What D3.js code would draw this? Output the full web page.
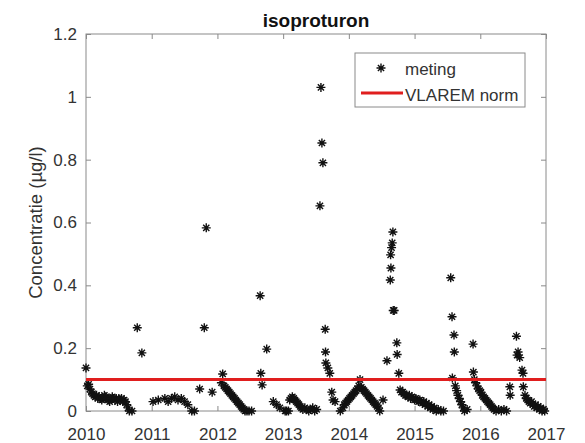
<!DOCTYPE html>
<html>
<head>
<meta charset="utf-8">
<script src="https://cdn.jsdelivr.net/npm/d3@7"></script>
<style>
  html, body { margin: 0; padding: 0; background: #fff; }
  svg { display: block; font-family: "Liberation Sans", Arial, sans-serif; }
</style>
</head>
<body>
<svg id="chart" width="585" height="443"></svg>
<script>
// ---- data ----
const chartTitle = "isoproturon";
const yLabel = "Concentratie (µg/l)";
const legendLabels = ["meting", "VLAREM norm"];
const xTicks = [2010, 2011, 2012, 2013, 2014, 2015, 2016, 2017];
const yTicks = [0, 0.2, 0.4, 0.6, 0.8, 1, 1.2];
const normValue = 0.1;

const sampleYears = [
  2010.00, 2010.02, 2010.04, 2010.06, 2010.08, 2010.10, 2010.12, 2010.14, 2010.16, 2010.18,
  2010.20, 2010.22, 2010.24, 2010.26, 2010.28, 2010.30, 2010.32, 2010.34, 2010.36, 2010.38,
  2010.40, 2010.42, 2010.44, 2010.46, 2010.48, 2010.50, 2010.52, 2010.54, 2010.56, 2010.58,
  2010.60, 2010.62, 2010.64, 2010.66, 2010.70, 2010.78, 2010.85,
  2011.02, 2011.10, 2011.20, 2011.25, 2011.30, 2011.35, 2011.40, 2011.45, 2011.50, 2011.55,
  2011.61, 2011.65, 2011.73, 2011.80, 2011.83, 2011.92,
  2012.06, 2012.08, 2012.10, 2012.12, 2012.14, 2012.16, 2012.18, 2012.20, 2012.22, 2012.24,
  2012.26, 2012.28, 2012.30, 2012.32, 2012.34, 2012.36, 2012.38, 2012.40, 2012.42, 2012.45,
  2012.48, 2012.52, 2012.65, 2012.66, 2012.68, 2012.75, 2012.85, 2012.90, 2012.95, 2013.03,
  2013.05, 2013.08, 2013.10, 2013.12, 2013.14, 2013.16, 2013.18, 2013.20, 2013.22, 2013.24,
  2013.26, 2013.28, 2013.30, 2013.33, 2013.36, 2013.39, 2013.42, 2013.45, 2013.48, 2013.51,
  2013.56, 2013.575, 2013.59, 2013.605, 2013.64, 2013.645, 2013.65, 2013.68, 2013.71, 2013.74,
  2013.76, 2013.79, 2013.87,
  2013.91, 2013.93, 2013.95, 2013.97, 2013.99, 2014.01, 2014.03, 2014.05, 2014.07, 2014.09,
  2014.11, 2014.13, 2014.15, 2014.17, 2014.19, 2014.21, 2014.23, 2014.25, 2014.27, 2014.29,
  2014.31, 2014.33, 2014.35, 2014.37, 2014.39, 2014.41, 2014.43, 2014.45, 2014.47, 2014.52,
  2014.58, 2014.63, 2014.635, 2014.64, 2014.65, 2014.66, 2014.67, 2014.675, 2014.69, 2014.73,
  2014.735, 2014.76,
  2014.78, 2014.80, 2014.82, 2014.84, 2014.86, 2014.88, 2014.90, 2014.92, 2014.94, 2014.96,
  2014.98, 2015.00, 2015.02, 2015.04, 2015.06, 2015.08, 2015.10, 2015.12, 2015.14, 2015.16,
  2015.18, 2015.20, 2015.22, 2015.24, 2015.26, 2015.28, 2015.30, 2015.33, 2015.36, 2015.40,
  2015.44, 2015.55, 2015.57, 2015.575, 2015.60, 2015.605,
  2015.62, 2015.64, 2015.66, 2015.68, 2015.70, 2015.72, 2015.74, 2015.76, 2015.80,
  2015.89, 2015.895,
  2015.91, 2015.93, 2015.95, 2015.97, 2015.99, 2016.01, 2016.03, 2016.05, 2016.07, 2016.09,
  2016.11, 2016.13, 2016.15, 2016.17, 2016.19, 2016.21, 2016.24, 2016.28, 2016.32, 2016.36,
  2016.40, 2016.45, 2016.455, 2016.55, 2016.56, 2016.575, 2016.60, 2016.635, 2016.65, 2016.655,
  2016.68, 2016.70, 2016.72, 2016.74, 2016.76, 2016.78, 2016.80, 2016.82, 2016.84, 2016.86,
  2016.88, 2016.90, 2016.92, 2016.94, 2016.96, 2016.98
];

const sampleValues = [
  0.137, 0.080, 0.085, 0.070, 0.060, 0.055, 0.050, 0.045, 0.050, 0.040,
  0.045, 0.040, 0.035, 0.040, 0.050, 0.045, 0.040, 0.035, 0.030, 0.040,
  0.045, 0.040, 0.035, 0.040, 0.030, 0.040, 0.035, 0.040, 0.030, 0.035,
  0.030, 0.020, 0.010, 0.000, 0.000, 0.265, 0.185,
  0.030, 0.035, 0.040, 0.030, 0.040, 0.045, 0.035, 0.040, 0.030, 0.020,
  0.000, 0.000, 0.070, 0.265, 0.583, 0.060,
  0.090, 0.118, 0.080, 0.075, 0.070, 0.065, 0.060, 0.055, 0.050, 0.045,
  0.040, 0.035, 0.030, 0.025, 0.020, 0.015, 0.010, 0.005, 0.000, 0.000,
  0.000, 0.000, 0.367, 0.120, 0.083, 0.197, 0.030, 0.020, 0.010, 0.000,
  0.000, 0.000, 0.035, 0.040, 0.045, 0.040, 0.035, 0.030, 0.025, 0.020,
  0.015, 0.010, 0.005, 0.010, 0.005, 0.000, 0.005, 0.010, 0.000, 0.005,
  0.653, 1.030, 0.853, 0.790, 0.260, 0.188, 0.153, 0.137, 0.120, 0.060,
  0.035, 0.030, 0.000,
  0.010, 0.020, 0.025, 0.030, 0.035, 0.040, 0.045, 0.050, 0.055, 0.060,
  0.065, 0.070, 0.080, 0.100, 0.075, 0.070, 0.065, 0.060, 0.055, 0.050,
  0.045, 0.040, 0.035, 0.030, 0.025, 0.020, 0.015, 0.010, 0.000, 0.035,
  0.160, 0.417, 0.497, 0.455, 0.520, 0.535, 0.570, 0.320, 0.320, 0.217,
  0.180, 0.120,
  0.067, 0.060, 0.060, 0.055, 0.050, 0.050, 0.045, 0.050, 0.040, 0.045,
  0.040, 0.035, 0.040, 0.035, 0.030, 0.035, 0.030, 0.025, 0.030, 0.020,
  0.025, 0.015, 0.020, 0.010, 0.015, 0.005, 0.010, 0.000, 0.005, 0.000,
  0.000, 0.424, 0.300, 0.105, 0.242, 0.188,
  0.080, 0.065, 0.050, 0.040, 0.030, 0.020, 0.010, 0.000, 0.005,
  0.213, 0.124,
  0.100, 0.090, 0.080, 0.070, 0.065, 0.060, 0.050, 0.045, 0.040, 0.035,
  0.030, 0.025, 0.020, 0.015, 0.010, 0.005, 0.000, 0.005, 0.000, 0.005,
  0.000, 0.077, 0.050, 0.238, 0.178, 0.188, 0.170, 0.130, 0.120, 0.077,
  0.050, 0.040, 0.035, 0.030, 0.025, 0.030, 0.020, 0.015, 0.020, 0.010,
  0.015, 0.005, 0.010, 0.000, 0.005, 0.000
];

// ---- layout ----
const plot = { left: 86, right: 546, top: 34, bottom: 411 };
const axisColor = "#8a8a8a";
const textColor = "#333";

const svg = d3.select("#chart");

const x = d3.scaleLinear().domain([2010, 2017]).range([plot.left, plot.right]);
const y = d3.scaleLinear().domain([0, 1.2]).range([plot.bottom, plot.top]);

// box
svg.append("rect")
  .attr("x", plot.left).attr("y", plot.top)
  .attr("width", plot.right - plot.left).attr("height", plot.bottom - plot.top)
  .attr("fill", "#fff").attr("stroke", axisColor).attr("stroke-width", 1);

function styleAxis(g, showLabels) {
  g.select(".domain").remove();
  g.selectAll(".tick line").attr("stroke", axisColor);
  g.selectAll(".tick text")
    .attr("fill", textColor)
    .style("font-size", "17px")
    .style("font-family", "'Liberation Sans', Arial, sans-serif");
  if (!showLabels) g.selectAll(".tick text").remove();
}

// bottom axis
svg.append("g")
  .attr("transform", `translate(0,${plot.bottom})`)
  .call(d3.axisBottom(x).tickValues(xTicks).tickFormat(d3.format("d"))
    .tickSizeInner(-5).tickSizeOuter(0).tickPadding(17))
  .call(g => styleAxis(g, true));

// top axis
svg.append("g")
  .attr("transform", `translate(0,${plot.top})`)
  .call(d3.axisTop(x).tickValues(xTicks).tickSizeInner(-5).tickSizeOuter(0))
  .call(g => styleAxis(g, false));

// left axis
svg.append("g")
  .attr("transform", `translate(${plot.left},0)`)
  .call(d3.axisLeft(y).tickValues(yTicks).tickFormat(d3.format("~g"))
    .tickSizeInner(-5).tickSizeOuter(0).tickPadding(9))
  .call(g => styleAxis(g, true));

// right axis
svg.append("g")
  .attr("transform", `translate(${plot.right},0)`)
  .call(d3.axisRight(y).tickValues(yTicks).tickSizeInner(-5).tickSizeOuter(0))
  .call(g => styleAxis(g, false));

// title
svg.append("text")
  .attr("x", (plot.left + plot.right) / 2).attr("y", 27)
  .attr("text-anchor", "middle")
  .attr("fill", "#111")
  .style("font-size", "19px").style("font-weight", "bold")
  .text(chartTitle);

// y label
svg.append("text")
  .attr("transform", `translate(42,${(plot.top + plot.bottom) / 2}) rotate(-90)`)
  .attr("text-anchor", "middle")
  .attr("fill", textColor)
  .style("font-size", "18.5px")
  .text(yLabel);

// markers
const starPath = "M-4.5,0L4.5,0M0,-4.5L0,4.5M-3.1,-3.1L3.1,3.1M-3.1,3.1L3.1,-3.1";
const points = sampleYears.map((t, i) => ({ t, v: sampleValues[i] }));
svg.append("g")
  .selectAll("path")
  .data(points)
  .join("path")
  .attr("transform", d => `translate(${x(d.t)},${y(d.v)})`)
  .attr("d", starPath)
  .attr("fill", "none")
  .attr("stroke", "#111")
  .attr("stroke-width", 1.4);

// norm line
svg.append("line")
  .attr("x1", x(2010)).attr("x2", x(2017))
  .attr("y1", y(normValue)).attr("y2", y(normValue))
  .attr("stroke", "#e01e1e").attr("stroke-width", 3);

// legend
const lg = svg.append("g");
lg.append("rect")
  .attr("x", 355).attr("y", 53).attr("width", 170).attr("height", 54)
  .attr("fill", "#fff").attr("stroke", axisColor);
lg.append("path")
  .attr("transform", "translate(381,68)")
  .attr("d", starPath)
  .attr("fill", "none").attr("stroke", "#111").attr("stroke-width", 1.4);
lg.append("line")
  .attr("x1", 361).attr("x2", 403).attr("y1", 93).attr("y2", 93)
  .attr("stroke", "#e01e1e").attr("stroke-width", 3);
lg.selectAll("text.lab")
  .data(legendLabels)
  .join("text")
  .attr("class", "lab")
  .attr("x", 405)
  .attr("y", (d, i) => 75 + i * 26)
  .attr("fill", textColor)
  .style("font-size", "17px")
  .text(d => d);
</script>
</body>
</html>
